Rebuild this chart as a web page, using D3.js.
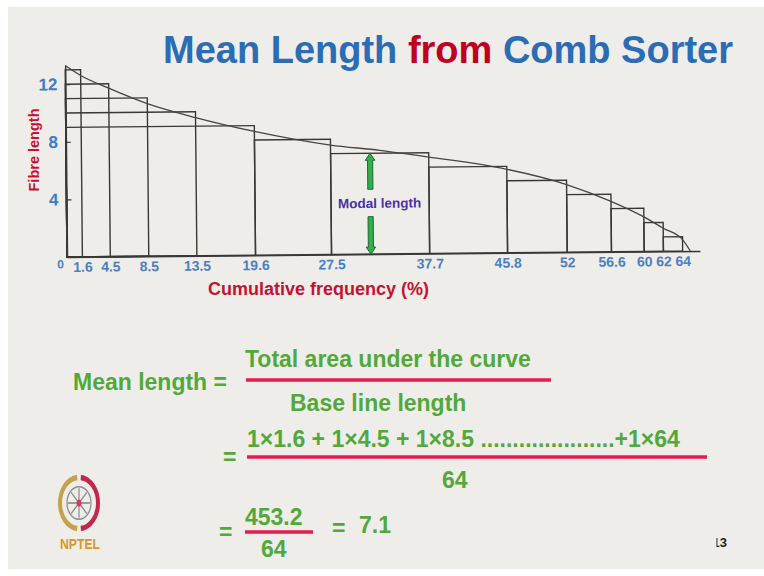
<!DOCTYPE html>
<html>
<head>
<meta charset="utf-8">
<script src="https://cdn.jsdelivr.net/npm/d3@7"></script>
<style>
  html, body { margin: 0; padding: 0; background: #ffffff; }
  svg { display: block; }
  text { font-family: "Liberation Sans", Arial, Helvetica, sans-serif; font-weight: bold; }
</style>
</head>
<body>
<script>
// Comb sorter diagram: cumulative frequency (%) of fibres against fibre length
const cumFreq = [1.6, 4.5, 8.5, 13.5, 19.6, 27.5, 37.7, 45.8, 52, 56.6, 60, 62, 64];
const fibreLength = [13, 12, 11, 10, 9, 8, 7, 6, 5, 4, 3, 2, 1];

// smooth staple curve drawn through the tops of the steps
const curveX = [0, 1.6, 4.5, 8.5, 13.5, 19.6, 27.5, 32.6, 37.7, 45.8, 52, 56.6, 60, 62, 64, 64.8];
const curveY = [13.3, 12.6, 11.7, 10.6, 9.6, 8.6, 7.6, 7.2, 6.7, 5.8, 4.7, 3.5, 2.4, 1.6, 0.8, 0];

const yTicks = [4, 8, 12];
const xTicks = [0].concat(cumFreq);

// the longest groups are drawn as nested boxes starting at the length axis
const nestedGroups = 5;

// modal length marker
const modalX = 31.6;
const modalLength = 7;

const W = 764, H = 576;
const svg = d3.select("body").append("svg").attr("width", W).attr("height", H);

svg.append("rect").attr("width", W).attr("height", H).attr("fill", "#ffffff");
svg.append("rect").attr("x", 8).attr("y", 7).attr("width", W - 8).attr("height", 562).attr("fill", "#efede9");

// title
const title = svg.append("text").attr("x", 163).attr("y", 63).style("font-size", "38px");
title.append("tspan").attr("fill", "#2a6db5").text("Mean Length ");
title.append("tspan").attr("fill", "#c0001e").text("from ");
title.append("tspan").attr("fill", "#2a6db5").text("Comb Sorter");

// scales
const x = d3.scaleLinear().domain([0, 65.8]).range([67, 700]);
const y = d3.scaleLinear().domain([0, 13.3]).range([257, 65.5]);

const chart = svg.append("g").attr("transform", "rotate(-0.55, 67, 257)");
const ink = "#383838";

// step boxes
chart.append("g").selectAll("rect")
  .data(cumFreq.map((c, i) => ({ x0: i < nestedGroups ? 0 : cumFreq[i - 1], x1: c, h: fibreLength[i] })))
  .join("rect")
  .attr("x", d => x(d.x0))
  .attr("y", d => y(d.h))
  .attr("width", d => x(d.x1) - x(d.x0))
  .attr("height", d => y(0) - y(d.h))
  .attr("fill", "none")
  .attr("stroke", ink)
  .attr("stroke-width", 1.4);

// curve
const pts = curveX.map((v, i) => [v, curveY[i]]);
chart.append("path")
  .datum(pts)
  .attr("d", d3.line().x(d => x(d[0])).y(d => y(d[1])).curve(d3.curveMonotoneX))
  .attr("fill", "none")
  .attr("stroke", "#454545")
  .attr("stroke-width", 1.3);

// y axis
const yAxis = chart.append("g").attr("transform", `translate(${x(0)},0)`)
  .call(d3.axisLeft(y).tickValues(yTicks).tickSize(-5).tickSizeOuter(0).tickPadding(8).tickFormat(d3.format("d")));
yAxis.select(".domain").attr("stroke", ink).attr("stroke-width", 1.5);
yAxis.selectAll(".tick line").attr("stroke", ink).attr("stroke-width", 1.2);
yAxis.selectAll(".tick text").attr("fill", "#3f7cc4").style("font-size", "17px")
  .style("font-family", "'Liberation Sans', Arial, sans-serif").style("font-weight", "bold");

// x axis
const xAxis = chart.append("g").attr("transform", `translate(0,${y(0)})`)
  .call(d3.axisBottom(x).tickValues(xTicks).tickSize(0).tickSizeOuter(0).tickPadding(5).tickFormat(d => String(d)));
xAxis.select(".domain").attr("stroke", ink).attr("stroke-width", 1.5);
xAxis.selectAll(".tick text").attr("fill", "#4a80c2").style("font-size", "14px")
  .style("font-family", "'Liberation Sans', Arial, sans-serif").style("font-weight", "bold");
xAxis.selectAll(".tick").filter(d => d === 0).select("text")
  .attr("dx", "-7px").attr("y", 3).style("font-size", "12px");

// modal length arrows
const arrowColor = "#2fb04c";
function arrow(v0, v1) {
  // shaft from v0 to v1 with the head at v1
  const xc = x(modalX), ya = y(v0), yb = y(v1);
  const dir = Math.sign(yb - ya);
  const hl = 7, hw = 4.8, sw = 2.6;
  const yh = yb - dir * hl;
  const p = [[xc - sw, ya], [xc + sw, ya], [xc + sw, yh], [xc + hw, yh], [xc, yb], [xc - hw, yh], [xc - sw, yh]];
  chart.append("path").attr("d", d3.line()(p) + "Z")
    .attr("fill", arrowColor).attr("stroke", "#1d5a2c").attr("stroke-width", 0.9);
}
arrow(4.5, modalLength);
arrow(2.6, 0);
chart.append("text").attr("x", x(modalX) + 9).attr("y", y(3.55) + 5)
  .attr("text-anchor", "middle").attr("fill", "#4d2fae").style("font-size", "13.5px")
  .text("Modal length");

// axis titles
svg.append("text").attr("x", 208).attr("y", 295).attr("fill", "#c41230")
  .style("font-size", "18px").text("Cumulative frequency (%)");
svg.append("text").attr("transform", "translate(39,150) rotate(-90)").attr("text-anchor", "middle")
  .attr("fill", "#c8102e").style("font-size", "14.5px").text("Fibre length");

// mean length working
const green = "#52a83a", red = "#e31e4e";
const f = svg.append("g").attr("fill", green).style("font-size", "23px");
function t(xp, yp, s) { f.append("text").attr("x", xp).attr("y", yp).text(s); }
function bar(x0, x1, yp) {
  svg.append("line").attr("x1", x0).attr("x2", x1).attr("y1", yp).attr("y2", yp)
    .attr("stroke", red).attr("stroke-width", 3.5);
}
t(73, 390, "Mean length =");
t(245, 367, "Total area under the curve");
bar(246, 551, 380);
t(290, 411, "Base line length");

t(223, 465, "=");
t(247, 447, "1\u00d71.6 + 1\u00d74.5 + 1\u00d78.5 .....................+1\u00d764");
bar(247, 707, 457);
t(442, 488, "64");

t(219, 540, "=");
t(245, 525, "453.2");
bar(245, 313, 532);
t(261, 557, "64");
t(332, 536, "=");
t(359, 533, "7.1");

// page number
svg.append("clipPath").attr("id", "pg").append("rect").attr("x", 716.5).attr("y", 530).attr("width", 30).attr("height", 25);
svg.append("text").attr("x", 712.5).attr("y", 547).attr("clip-path", "url(#pg)")
  .attr("fill", "#222").style("font-size", "13px").text("13");

// NPTEL emblem
const logo = svg.append("g").attr("transform", "translate(79,503)");
const ringL = d3.arc().innerRadius(17).outerRadius(21).startAngle(-Math.PI * 0.97).endAngle(-Math.PI * 0.03);
const ringR = d3.arc().innerRadius(17).outerRadius(21).startAngle(Math.PI * 0.03).endAngle(Math.PI * 0.97);
const lg = logo.append("g").attr("transform", "scale(1,1.35)");
lg.append("path").attr("d", ringL()).attr("fill", "#c4a24c");
lg.append("path").attr("d", ringR()).attr("fill", "#c0284e");
lg.append("circle").attr("r", 12).attr("fill", "none").attr("stroke", "#8a8a8a").attr("stroke-width", 1.2);
for (let k = 0; k < 8; k++) {
  const a = k * Math.PI / 4;
  lg.append("line").attr("x1", 0).attr("y1", 0).attr("x2", 11 * Math.cos(a)).attr("y2", 11 * Math.sin(a))
    .attr("stroke", "#8a8a8a").attr("stroke-width", 1.2);
}
lg.append("circle").attr("r", 2.5).attr("fill", "#e0306a");
svg.append("text").attr("x", 60).attr("y", 549).attr("fill", "#d9962a")
  .attr("textLength", 40).attr("lengthAdjust", "spacingAndGlyphs")
  .style("font-size", "14px").text("NPTEL");
</script>
</body>
</html>
